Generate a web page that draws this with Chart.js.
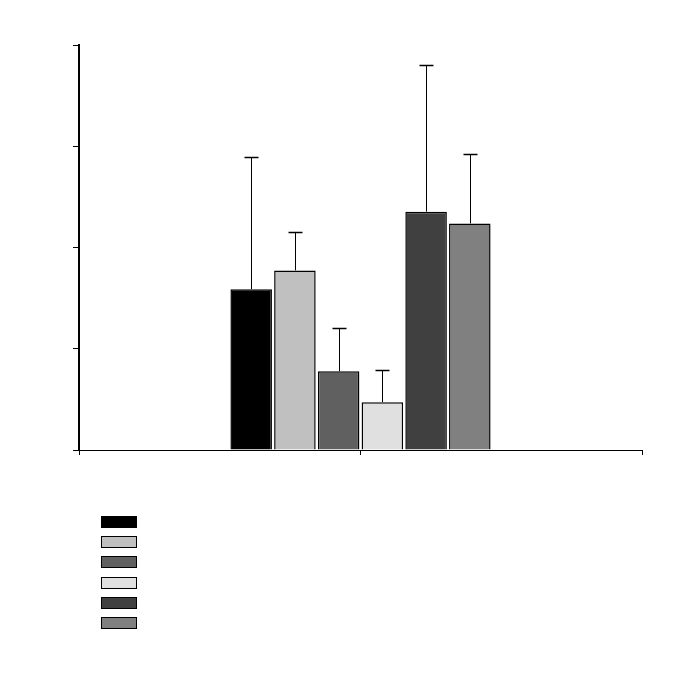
<!DOCTYPE html>
<html>
<head>
<meta charset="utf-8">
<script src="https://cdn.jsdelivr.net/npm/chart.js@4/dist/chart.umd.min.js"></script>
<style>
  html, body { margin: 0; padding: 0; background: #fff; }
  #barChart { display: block; }
</style>
</head>
<body>
<canvas id="barChart" width="675" height="674"></canvas>
<script>
    // Series names (no text is shown in the picture)
    const seriesNames = ['Series 1', 'Series 2', 'Series 3', 'Series 4', 'Series 5', 'Series 6'];
    // Mean values
    const seriesValues = [7.94, 8.87, 3.89, 2.36, 11.77, 11.19];
    // Upper error (added on top of each mean)
    const seriesErrors = [6.51, 1.88, 2.13, 1.58, 7.26, 3.44];
    // Fill colours of each series
    const seriesColors = ['#000000', '#c0c0c0', '#606060', '#e0e0e0', '#404040', '#808080'];
    // Position of the single group on the x axis
    const groupPosition = 1;

    // Error bars drawn from the y scale
    const errorBars = {
      id: 'errorBars',
      afterDatasetsDraw(chart) {
        const ctx = chart.ctx;
        const yScale = chart.scales.y;
        ctx.save();
        ctx.strokeStyle = '#000';
        ctx.lineWidth = 1;
        chart.data.datasets.forEach((ds, i) => {
          const bar = chart.getDatasetMeta(i).data[0];
          const top = yScale.getPixelForValue(seriesValues[i] + seriesErrors[i]);
          const x = Math.round(bar.x) + 0.5;
          ctx.beginPath();
          ctx.moveTo(x, bar.y);
          ctx.lineTo(x, Math.round(top) + 0.5);
          ctx.stroke();
          ctx.lineWidth = 1.5;
          ctx.beginPath();
          ctx.moveTo(x - 7, Math.round(top) + 0.5);
          ctx.lineTo(x + 7, Math.round(top) + 0.5);
          ctx.stroke();
          ctx.lineWidth = 1;
        });
        ctx.restore();
      }
    };

    // Legend keys stacked below the plot, no text
    const boxLegend = {
      id: 'boxLegend',
      afterDraw(chart) {
        const ctx = chart.ctx;
        const area = chart.chartArea;
        ctx.save();
        chart.data.datasets.forEach((ds, i) => {
          const x = Math.round(area.left + 22) + 0.5;
          const y = Math.round(area.bottom + 66 + i * 20.2) + 0.5;
          ctx.fillStyle = ds.backgroundColor;
          ctx.fillRect(x, y, 35, 11);
          ctx.strokeStyle = '#000';
          ctx.lineWidth = 1;
          ctx.strokeRect(x, y, 35, 11);
        });
        ctx.restore();
      }
    };

    const ebrwCanvas = document.getElementById('barChart');

    new Chart(ebrwCanvas, {
      type: 'bar',
      data: {
        datasets: seriesNames.map((name, i) => ({
          label: name,
          data: [{ x: groupPosition, y: seriesValues[i] }],
          backgroundColor: seriesColors[i],
          borderColor: '#000',
          borderWidth: 1.5,
          borderSkipped: 'bottom',
          categoryPercentage: 0.932,
          barPercentage: 0.95
        }))
      },
      options: {
        responsive: false,
        animation: false,
        layout: { padding: { left: 73, top: 45, right: 33, bottom: 219 } },
        plugins: {
          legend: { display: false },
          tooltip: { enabled: false }
        },
        scales: {
          x: {
            type: 'linear',
            min: 0,
            max: 2,
            offset: false,
            ticks: { display: false, stepSize: 1 },
            grid: { display: true, drawOnChartArea: false, offset: false, tickLength: 5, color: '#000', tickColor: '#000' },
            border: { display: true, color: '#000', width: 1 }
          },
          y: {
            min: 0,
            max: 20,
            ticks: { display: false, stepSize: 5 },
            grid: { display: true, drawOnChartArea: false, tickLength: 6, color: '#000', tickColor: '#000' },
            border: { display: true, color: '#000', width: 2 }
          }
        }
      },
      plugins: [errorBars, boxLegend]
    });
</script>
</body>
</html>
